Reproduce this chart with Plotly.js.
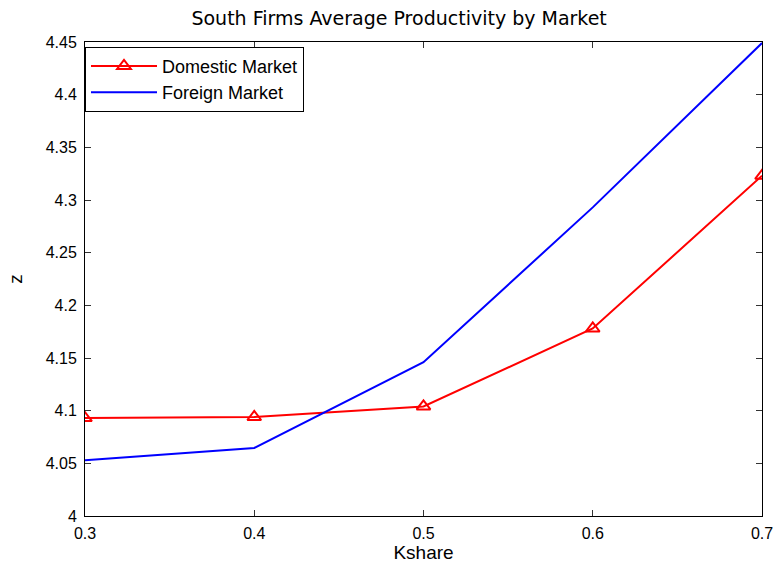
<!DOCTYPE html>
<html>
<head>
<meta charset="utf-8">
<script src="https://cdn.plot.ly/plotly-3.0.1.min.js"></script>
<style>body{margin:0;background:#fff}</style>
</head>
<body>
<div id="myDiv" style="width:775px;height:570px"></div>
<script>
// kshare on x, average productivity z on y
let kshare = [0.3, 0.4, 0.5, 0.6, 0.7];
let domestic = [4.093, 4.094, 4.104, 4.178, 4.323];
let foreign = [4.053, 4.0646, 4.146, 4.293, 4.449];
let xticks = [0.3, 0.4, 0.5, 0.6, 0.7];
let xlabels = ['0.3', '0.4', '0.5', '0.6', '0.7'];
let yticks = [4, 4.05, 4.1, 4.15, 4.2, 4.25, 4.3, 4.35, 4.4, 4.45];
let ylabels = ['4', '4.05', '4.1', '4.15', '4.2', '4.25', '4.3', '4.35', '4.4', '4.45'];

let fnt = 'Liberation Sans, Arial, sans-serif';

let traceDom = {
  x: kshare, y: domestic, name: 'Domestic Market', mode: 'lines+markers',
  line: {color: '#ff0000', width: 2},
  marker: {symbol: 'triangle-up-open', size: 12, color: '#ff0000', line: {width: 2}}
};
let traceFor = {
  x: kshare, y: foreign, name: 'Foreign Market', mode: 'lines',
  line: {color: '#0000ff', width: 2}
};

let axisBase = {
  showgrid: false, zeroline: false, showline: true, linecolor: '#000', linewidth: 1,
  mirror: 'ticks', ticks: 'inside', ticklen: 6, tickcolor: '#333',
  tickfont: {family: fnt, size: 16, color: '#000'}
};

let layout = {
  width: 775, height: 570,
  margin: {l: 85, r: 13, t: 42, b: 54},
  paper_bgcolor: '#fff', plot_bgcolor: '#fff',
  title: {text: 'South Firms Average Productivity by Market', font: {family: 'DejaVu Sans, sans-serif', size: 19, color: '#000'}, x: 0.515, y: 0.968, yanchor: 'middle'},
  xaxis: Object.assign({}, axisBase, {
    range: [0.3, 0.7], tickvals: xticks, ticktext: xlabels, ticklabelstandoff: 3,
    title: {text: 'Kshare', font: {family: fnt, size: 19, color: '#000'}, standoff: 0}
  }),
  yaxis: Object.assign({}, axisBase, {
    range: [4, 4.45], tickvals: yticks, ticktext: ylabels, ticklabelstandoff: 4,
    title: {text: 'z', font: {family: fnt, size: 19, color: '#000'}, standoff: 18}
  }),
  showlegend: true,
  legend: {
    x: 0, y: 0.99, xanchor: 'left', yanchor: 'top', itemwidth: 66,
    bgcolor: '#fff', bordercolor: '#000', borderwidth: 1,
    font: {family: fnt, size: 18, color: '#000'}, tracegroupgap: 0
  }
};

Plotly.newPlot('myDiv', [traceDom, traceFor], layout, {displayModeBar: false});
</script>
</body>
</html>
